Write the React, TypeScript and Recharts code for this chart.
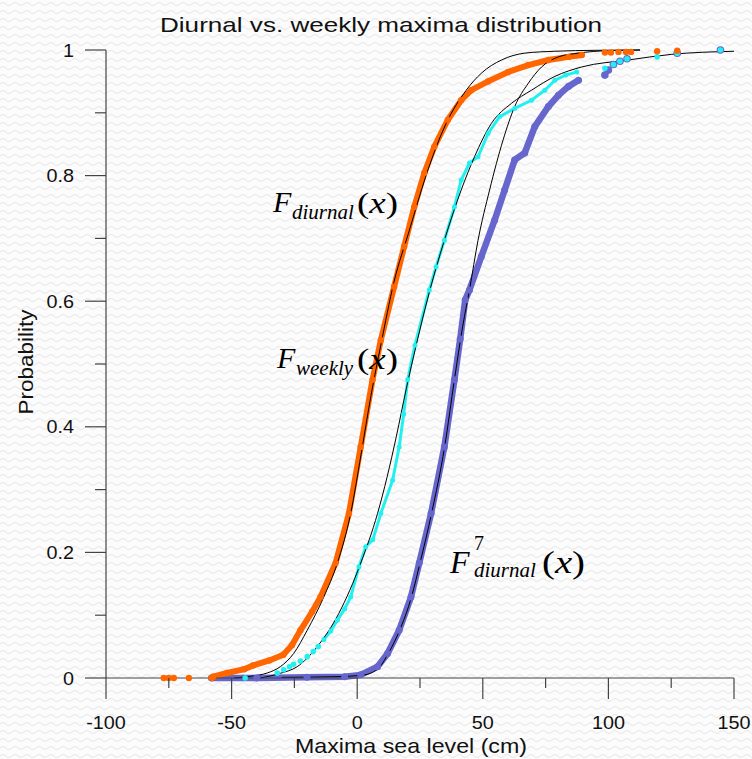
import { ComposedChart, Line, Scatter, XAxis, YAxis } from "recharts";

// [x (cm), cumulative probability]
const diurnalObs: [number, number][] = [
  [-57.4, 0.002], [-51.8, 0.008], [-45, 0.014], [-41.4, 0.02], [-35, 0.028], [-29.4, 0.037],
  [-26, 0.052], [-22.6, 0.076], [-18, 0.105], [-14.6, 0.129], [-8.6, 0.183], [-3.3, 0.262],
  [1.4, 0.368], [6.1, 0.475], [9.4, 0.538], [14.7, 0.623], [18.7, 0.687], [22.7, 0.75],
  [26.7, 0.804], [30.7, 0.846], [36.1, 0.889], [41.4, 0.92], [45.4, 0.936], [52.1, 0.95],
  [60.1, 0.965], [68.1, 0.976], [76.1, 0.984], [84.1, 0.989], [89.4, 0.992],
];
const diurnalTail: [number, number][] = [
  [-77, 0], [-75, 0], [-73, 0], [-67, 0], [-58, 0],
  [98.6, 0.996], [101, 0.996], [104, 0.997], [107, 0.997], [109, 0.997], [119.4, 0.998], [127.4, 0.999],
];

const weeklyObs: [number, number][] = [
  [-13.3, 0.061], [-10.5, 0.075], [-7.9, 0.092], [-5, 0.11], [-2.6, 0.129], [0.7, 0.177],
  [3.4, 0.209], [6.2, 0.22], [9.4, 0.262], [14.1, 0.315], [16.7, 0.368], [18.5, 0.42],
  [20.1, 0.475], [23, 0.53], [28.7, 0.618], [31.4, 0.655], [34.7, 0.697], [38.7, 0.75],
  [41.4, 0.793], [44.7, 0.82], [48.1, 0.83], [52.1, 0.867], [56.7, 0.894], [62.7, 0.907],
  [69.4, 0.92], [74.7, 0.936], [78.7, 0.952], [83, 0.96], [87.4, 0.965],
];
const weeklyTail: [number, number][] = [
  [-44.6, 0], [-31.8, 0.008], [-29.3, 0.013], [-27, 0.018], [-25.3, 0.022], [-22.6, 0.027],
  [-19.9, 0.034], [-17.5, 0.042], [-15.5, 0.05],
  [98.6, 0.971], [102, 0.977], [104.6, 0.982], [107.4, 0.986], [119.4, 0.989], [127.4, 0.995], [144.6, 1.0],
];

const diurnal7Obs: [number, number][] = [
  [-58, 0], [-40, 0], [-20, 0.001], [-5, 0.002], [1.4, 0.005], [8.1, 0.018], [12.1, 0.039],
  [16.7, 0.076], [21.4, 0.129], [24.7, 0.183], [29.4, 0.262], [34.7, 0.368], [38.7, 0.475],
  [41, 0.54], [43, 0.602], [44.7, 0.618], [49.4, 0.671], [54.7, 0.729], [58.7, 0.777],
  [62.7, 0.825], [66.7, 0.836], [70.7, 0.878], [76.1, 0.91], [80.1, 0.928], [84.1, 0.942],
  [88.1, 0.952],
];
const diurnal7Tail: [number, number][] = [
  [98.6, 0.96], [100, 0.968], [102, 0.977], [104.6, 0.982], [107.4, 0.986], [127.4, 0.995], [144.6, 1.0],
];

// fitted curves (thin black)
const diurnalFit: [number, number][] = [
  [-49, 0], [-42, 0.003], [-35.8, 0.008], [-30.6, 0.018], [-25.3, 0.039], [-19.9, 0.076],
  [-13.3, 0.129], [-7.9, 0.183], [-2.6, 0.262], [1.5, 0.355], [5.5, 0.45], [9.4, 0.53],
  [14.6, 0.63], [20.7, 0.712], [27.4, 0.8], [35.4, 0.883], [43.4, 0.936], [49.4, 0.963],
  [57.4, 0.984], [66.7, 0.995], [78.6, 0.998], [95, 0.9995], [112.6, 1],
];
const weeklyFit: [number, number][] = [
  [-38.6, 0], [-30.6, 0.0075], [-23.9, 0.018], [-15.9, 0.05], [-7.3, 0.103], [1.4, 0.183],
  [8.1, 0.262], [11.9, 0.32], [15.6, 0.385], [19.5, 0.46], [23.5, 0.53], [28.1, 0.605],
  [34.7, 0.697], [41.4, 0.777], [46.7, 0.83], [53.4, 0.883], [61.4, 0.915], [69.4, 0.936],
  [78.7, 0.958], [89.4, 0.973], [107.8, 0.984], [125, 0.993], [150, 0.998],
];
const diurnal7Fit: [number, number][] = [
  [-30, 0.001], [-10, 0.002], [1.4, 0.004], [8.1, 0.014], [12.5, 0.04], [16.9, 0.076],
  [21.6, 0.129], [25, 0.183], [29.6, 0.262], [34.8, 0.368], [38.7, 0.475], [42, 0.56],
  [44.7, 0.618], [48.1, 0.697], [52.7, 0.777], [58.1, 0.857], [62.7, 0.91], [68.1, 0.947],
  [73.4, 0.973], [80.1, 0.989], [88, 0.995], [100, 0.999], [112.6, 1],
];

const xTicks = [-100, -75, -50, -25, 0, 25, 50, 75, 100, 125, 150];
const yTicks = [0, 0.1, 0.2, 0.3, 0.4, 0.5, 0.6, 0.7, 0.8, 0.9, 1];

const ORANGE = "#ff6600";
const CYAN = "#22f0f0";
const PURPLE = "#6666cc";
const AXIS = "#444";
const SANS = "'Liberation Sans', Arial, sans-serif";
const SERIF = "'Liberation Serif', 'Times New Roman', serif";

const toPts = (arr: [number, number][]) => arr.map(([x, y]) => ({ x, y }));

const bg =
  "url(\"data:image/svg+xml,%3Csvg xmlns='http://www.w3.org/2000/svg' width='12' height='8'%3E%3Cpath d='M0 4 Q3 1 6 4 T12 4' fill='none' stroke='%23ececec' stroke-width='1.2'/%3E%3C/svg%3E\")";

function XTick({ x, y, payload }: any) {
  const major = payload.value % 50 === 0;
  return (
    <g>
      <line x1={x} x2={x} y1={y} y2={y + (major ? 21 : 10)} stroke={AXIS} strokeWidth={1.2} />
      {major && (
        <text
          transform={`translate(${x},${y + 51}) scale(1.1,1)`}
          textAnchor="middle"
          fontFamily={SANS}
          fontSize={18}
          fill="#111"
        >
          {payload.value}
        </text>
      )}
    </g>
  );
}

function YTick({ x, y, payload }: any) {
  const v = Math.round(payload.value * 10);
  const major = v % 2 === 0;
  return (
    <g>
      <line x1={x - (major ? 21 : 11)} x2={x} y1={y} y2={y} stroke={AXIS} strokeWidth={1.2} />
      {major && (
        <text
          transform={`translate(${x - 32},${y + 6.5}) scale(1.1,1)`}
          textAnchor="end"
          fontFamily={SANS}
          fontSize={18}
          fill="#111"
        >
          {v === 0 ? "0" : v === 10 ? "1" : (v / 10).toFixed(1)}
        </text>
      )}
    </g>
  );
}

const dotShape = (r: number, fill: string) => (p: any) =>
  <circle cx={p.cx} cy={p.cy} r={r} fill={fill} stroke="none" />;

export default function App() {
  return (
    <div style={{ position: "absolute", left: 0, top: 0, width: 752, height: 759, backgroundColor: "#fcfcfc", backgroundImage: bg }}>
      <style>{"body{margin:0}"}</style>
      <ComposedChart width={752} height={759} margin={{ top: 50, right: 18, left: 0, bottom: 0 }}>
        <XAxis
          dataKey="x"
          type="number"
          domain={[-100, 150]}
          ticks={xTicks}
          interval={0}
          height={81}
          tickSize={0}
          tickMargin={0}
          tick={<XTick />}
          axisLine={{ stroke: AXIS, strokeWidth: 1.2 }}
        />
        <YAxis
          type="number"
          domain={[0, 1]}
          ticks={yTicks}
          interval={0}
          width={106}
          tickSize={0}
          tickMargin={0}
          tick={<YTick />}
          axisLine={{ stroke: AXIS, strokeWidth: 1.2 }}
        />

        <Line data={toPts(diurnal7Obs)} dataKey="y" type="linear" stroke={PURPLE} strokeWidth={6.5} strokeLinecap="round"
          dot={{ r: 3.5, fill: PURPLE, stroke: "none" }} isAnimationActive={false} />
        <Scatter data={toPts(diurnal7Tail)} dataKey="y" shape={dotShape(3.8, PURPLE)} isAnimationActive={false} />

        <Line data={toPts(weeklyObs)} dataKey="y" type="linear" stroke={CYAN} strokeWidth={3} strokeLinecap="round"
          dot={{ r: 2.5, fill: CYAN, stroke: "none" }} isAnimationActive={false} />
        <Scatter data={toPts(weeklyTail)} dataKey="y" shape={dotShape(2.8, CYAN)} isAnimationActive={false} />

        <Line data={toPts(diurnalObs)} dataKey="y" type="linear" stroke={ORANGE} strokeWidth={6} strokeLinecap="round"
          dot={{ r: 3.2, fill: ORANGE, stroke: "none" }} isAnimationActive={false} />
        <Scatter data={toPts(diurnalTail)} dataKey="y" shape={dotShape(3.2, ORANGE)} isAnimationActive={false} />

        <Line data={toPts(diurnalFit)} dataKey="y" type="monotone" stroke="#000" strokeWidth={1} dot={false} isAnimationActive={false} />
        <Line data={toPts(weeklyFit)} dataKey="y" type="monotone" stroke="#000" strokeWidth={1} dot={false} isAnimationActive={false} />
        <Line data={toPts(diurnal7Fit)} dataKey="y" type="monotone" stroke="#000" strokeWidth={1} dot={false} isAnimationActive={false} />
      </ComposedChart>

      <svg width={752} height={759} style={{ position: "absolute", left: 0, top: 0, pointerEvents: "none" }}>
        <text x={381} y={32} textAnchor="middle" fontFamily={SANS} fontSize={21} textLength={442} lengthAdjust="spacingAndGlyphs" fill="#111">
          Diurnal vs. weekly maxima distribution
        </text>
        <text x={411} y={753} textAnchor="middle" fontFamily={SANS} fontSize={21} textLength={232} lengthAdjust="spacingAndGlyphs" fill="#111">
          Maxima sea level (cm)
        </text>
        <text transform="translate(33,362) rotate(-90)" textAnchor="middle" fontFamily={SANS} fontSize={21} textLength={105} lengthAdjust="spacingAndGlyphs" fill="#111">
          Probability
        </text>

        <g fontFamily={SERIF} fill="#000">
          <text x={273} y={212} fontSize={30} fontStyle="italic">F</text>
          <text x={292} y={219} fontSize={21} fontStyle="italic">diurnal</text>
          <text x={357} y={213} fontSize={30} textLength={41} lengthAdjust="spacingAndGlyphs">(<tspan fontStyle="italic">x</tspan>)</text>

          <text x={277} y={368} fontSize={30} fontStyle="italic">F</text>
          <text x={296} y={375} fontSize={21} fontStyle="italic">weekly</text>
          <text x={357} y={369} fontSize={30} textLength={41} lengthAdjust="spacingAndGlyphs">(<tspan fontStyle="italic">x</tspan>)</text>

          <text x={450} y={573} fontSize={32} fontStyle="italic">F</text>
          <text x={474} y={550} fontSize={20}>7</text>
          <text x={474} y={577} fontSize={21} fontStyle="italic">diurnal</text>
          <text x={542} y={573} fontSize={32} textLength={43} lengthAdjust="spacingAndGlyphs">(<tspan fontStyle="italic">x</tspan>)</text>
        </g>
      </svg>
    </div>
  );
}
